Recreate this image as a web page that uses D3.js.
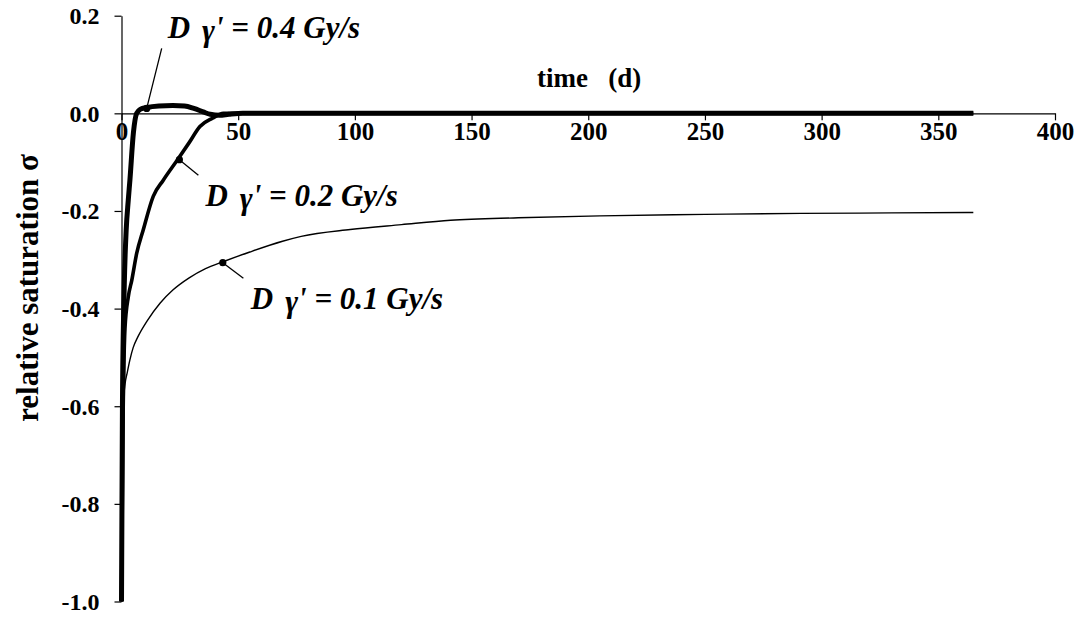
<!DOCTYPE html>
<html>
<head>
<meta charset="utf-8">
<script src="https://cdn.jsdelivr.net/npm/d3@7"></script>
<style>
  body { margin: 0; background: #fff; }
  svg { display: block; }
  svg text { font-family: "Liberation Serif", "Times New Roman", serif; fill: #000; }
</style>
</head>
<body>
<svg id="chart" width="1086" height="620"></svg>
<script>
// tick values
const xTicks = [0, 50, 100, 150, 200, 250, 300, 350, 400];
const yTicks = [0.2, 0.0, -0.2, -0.4, -0.6, -0.8, -1.0];

// D = 0.4 Gy/s
const t04 = [0, 0.4, 1.2, 2, 2.9, 3.6, 5.1, 6.5, 8, 11, 16, 22, 27, 31, 35, 38, 42, 46, 52, 365];
const s04 = [-1, -0.6, -0.35, -0.24, -0.178, -0.137, -0.04, 0.0, 0.008, 0.012, 0.015, 0.016, 0.015, 0.01, 0.003, -0.002, -0.004, -0.002, 0, 0];

// D = 0.2 Gy/s
const t02 = [0, 0.5, 1.5, 2.9, 4.4, 6.5, 9.3, 13.6, 17.9, 24, 29, 33.6, 39, 43.6, 50, 365];
const s02 = [-1, -0.7, -0.44, -0.376, -0.342, -0.287, -0.239, -0.17, -0.137, -0.095, -0.06, -0.027, -0.01, 0, 0, 0];

// D = 0.1 Gy/s
const t01 = [0, 0.4, 1, 1.5, 2.5, 3.6, 5, 7, 11, 16.5, 22, 29, 36, 43.5, 55, 69, 77, 98, 120, 141, 170, 205, 250, 291, 330, 365];
const s01 = [-1, -0.7, -0.58, -0.555, -0.53, -0.505, -0.48, -0.458, -0.425, -0.389, -0.362, -0.337, -0.318, -0.304, -0.284, -0.262, -0.252, -0.238, -0.228, -0.219, -0.214, -0.21, -0.207, -0.205, -0.204, -0.203];

// annotation points and texts
const doseLabels = ['0.4', '0.2', '0.1'];
const markT = [10.8, 24.8, 43.4];
const markS = [0.010, -0.095, -0.306];

const svg = d3.select('#chart');

const x = d3.scaleLinear().domain([0, 400]).range([121.5, 1055]);
const y = d3.scaleLinear().domain([-1, 0.2]).range([601.5, 15.7]);

// y axis
const yAxis = svg.append('g')
    .attr('transform', `translate(${x(0)},0)`)
    .call(d3.axisLeft(y).tickValues(yTicks).tickSize(7).tickSizeOuter(0)
        .tickFormat(d => d.toFixed(1)));
yAxis.selectAll('text')
    .attr('x', -22)
    .attr('dy', '0.33em')
    .style('font-size', '24px')
    .style('font-weight', 'bold');

// x axis on the zero line
const xAxis = svg.append('g')
    .attr('transform', `translate(0,${y(0)})`)
    .call(d3.axisBottom(x).tickValues(xTicks).tickSize(7).tickSizeOuter(0));
xAxis.selectAll('text')
    .attr('y', 27)
    .attr('dy', 0)
    .style('font-size', '25px')
    .style('font-weight', 'bold');

svg.selectAll('.domain, .tick line').attr('stroke', '#000').attr('stroke-width', 1.2);

// curves
const line = d3.line()
    .x(d => x(d[0]))
    .y(d => y(d[1]))
    .curve(d3.curveMonotoneX);

const series = [
    { t: t01, s: s01, w: 1.4 },
    { t: t02, s: s02, w: 3.6 },
    { t: t04, s: s04, w: 5 }
];

svg.append('g')
    .selectAll('path')
    .data(series)
    .join('path')
    .attr('fill', 'none')
    .attr('stroke', '#000')
    .attr('stroke-width', d => d.w)
    .attr('stroke-linejoin', 'round')
    .attr('d', d => line(d.t.map((v, i) => [v, d.s[i]])));

// annotations: leader line offsets and label offsets in px
const leader = [[15, -60], [19, 15.5], [20.6, 15.6]];
const labelOff = [[21, -70], [26, 46], [28, 46]];

const ann = svg.append('g');
doseLabels.forEach((lab, i) => {
    const px = x(markT[i]), py = y(markS[i]);
    ann.append('line')
        .attr('x1', px).attr('y1', py)
        .attr('x2', px + leader[i][0]).attr('y2', py + leader[i][1])
        .attr('stroke', '#000')
        .attr('stroke-width', 1.3);
    ann.append('circle')
        .attr('cx', px).attr('cy', py)
        .attr('r', 3.6)
        .attr('fill', '#000');
    const txt = ann.append('text')
        .attr('x', px + labelOff[i][0])
        .attr('y', py + labelOff[i][1])
        .style('font-size', '31px')
        .style('font-weight', 'bold')
        .style('font-style', 'italic');
    txt.append('tspan').text('D');
    txt.append('tspan').attr('dx', 12).attr('dy', 3).text('γ');
    txt.append('tspan').attr('dy', -3).text(`' = ${lab} Gy/s`);
});

// axis titles
svg.append('text')
    .attr('x', 537)
    .attr('y', 87)
    .style('font-size', '27px')
    .style('font-weight', 'bold')
    .style('white-space', 'pre')
    .text('time   (d)');

svg.append('text')
    .attr('transform', 'translate(38,288) rotate(-90)')
    .attr('text-anchor', 'middle')
    .style('font-size', '31px')
    .style('font-weight', 'bold')
    .text('relative saturation σ');
</script>
</body>
</html>
